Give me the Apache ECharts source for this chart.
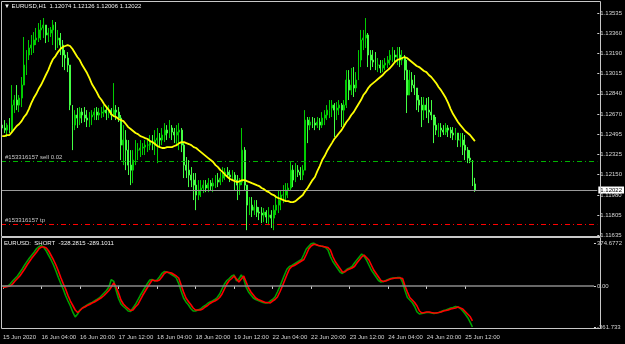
<!DOCTYPE html>
<html><head><meta charset="utf-8">
<script src="https://cdn.jsdelivr.net/npm/echarts@6/dist/echarts.min.js"></script>
<style>html,body{margin:0;padding:0;background:#000;}#c{width:625px;height:344px;}</style>
</head><body><div id="c"></div>
<script>
// ---------- DATA ----------
const mainTitle = '\u25BC EURUSD,H1  1.12074 1.12126 1.12006 1.12022';
const indTitle = 'EURUSD:  SHORT  -328.2815 -289.1011';
const timeLabels = ['15 Jun 2020','16 Jun 04:00','16 Jun 20:00','17 Jun 12:00','18 Jun 04:00','18 Jun 20:00','19 Jun 12:00','22 Jun 04:00','22 Jun 20:00','23 Jun 12:00','24 Jun 04:00','24 Jun 20:00','25 Jun 12:00'];
const priceTickLabels = ['1.11635','1.11805','1.11980','1.12150','1.12325','1.12495','1.12670','1.12840','1.13015','1.13190','1.13360','1.13535'];
const indTickValues = [-361.733, 0, 374.6772];
const indTickLabels = ['-361.733','0.00','374.6772'];
const bidPrice = 1.12022;
const sellLevel = 1.12267;
const tpLevel = 1.11732;
const sellText = '#153316157 sell 0.02';
const tpText = '#153316157 tp';

const open = [
1.12577,1.12552,1.12534,1.12577,1.12534,1.12748,1.12791,1.12748,1.12808,1.12919,
1.13090,1.13176,1.13236,1.13261,1.13304,1.13321,1.13390,1.13407,1.13432,1.13347,
1.13364,1.13390,1.13432,1.13304,1.13321,1.13261,1.13176,1.13150,1.13090,1.12748,
1.12577,1.12663,1.12637,1.12688,1.12663,1.12637,1.12620,1.12646,1.12663,1.12688,
1.12663,1.12680,1.12688,1.12705,1.12680,1.12705,1.12663,1.12705,1.12688,1.12637,
1.12406,1.12449,1.12363,1.12235,1.12192,1.12278,1.12363,1.12363,1.12381,1.12389,
1.12406,1.12406,1.12432,1.12406,1.12449,1.12466,1.12449,1.12492,1.12534,1.12509,
1.12552,1.12517,1.12492,1.12517,1.12534,1.12406,1.12235,1.12192,1.12150,1.12107,
1.12064,1.11979,1.12021,1.12039,1.12064,1.12039,1.12081,1.12056,1.12081,1.12107,
1.12090,1.12124,1.12150,1.12175,1.12150,1.12133,1.12150,1.12107,1.12064,1.12090,
1.12363,1.12064,1.11893,1.11893,1.11850,1.11876,1.11833,1.11825,1.11808,1.11833,
1.11791,1.11808,1.11782,1.11850,1.11893,1.11936,1.11979,1.11979,1.12021,1.12039,
1.12192,1.12107,1.12192,1.12175,1.12150,1.12192,1.12620,1.12577,1.12603,1.12594,
1.12577,1.12603,1.12577,1.12637,1.12663,1.12705,1.12723,1.12748,1.12705,1.12723,
1.12748,1.12705,1.12748,1.12962,1.12876,1.12919,1.12894,1.12962,1.13133,1.13304,
1.13321,1.13347,1.13176,1.13133,1.13116,1.13090,1.13090,1.13065,1.13090,1.13107,
1.13133,1.13176,1.13176,1.13159,1.13176,1.13133,1.13150,1.13047,1.12834,1.12962,
1.12919,1.12894,1.12791,1.12748,1.12705,1.12748,1.12705,1.12688,1.12663,1.12577,
1.12534,1.12552,1.12534,1.12517,1.12552,1.12534,1.12509,1.12492,1.12509,1.12449,
1.12449,1.12406,1.12363,1.12295,1.12278,1.12074];
const high = [
1.12663,1.12620,1.12594,1.12637,1.12919,1.12834,1.12919,1.12834,1.12988,1.13330,
1.13218,1.13304,1.13347,1.13372,1.13407,1.13449,1.13475,1.13492,1.13432,1.13407,
1.13415,1.13475,1.13458,1.13390,1.13364,1.13304,1.13218,1.13201,1.13090,1.12748,
1.12705,1.12723,1.12731,1.12723,1.12731,1.12705,1.12688,1.12705,1.12723,1.12731,
1.12723,1.12731,1.12748,1.12731,1.12748,1.12723,1.12936,1.12748,1.12731,1.12663,
1.12577,1.12534,1.12449,1.12363,1.12363,1.12449,1.12423,1.12449,1.12423,1.12449,
1.12466,1.12492,1.12492,1.12534,1.12552,1.12509,1.12552,1.12594,1.12577,1.12620,
1.12577,1.12552,1.12577,1.12594,1.12552,1.12423,1.12304,1.12278,1.12218,1.12167,
1.12167,1.12107,1.12107,1.12107,1.12107,1.12124,1.12107,1.12124,1.12150,1.12167,
1.12175,1.12218,1.12210,1.12218,1.12192,1.12192,1.12175,1.12150,1.12124,1.12552,
1.12389,1.12064,1.11962,1.11962,1.11936,1.11936,1.11876,1.11876,1.11868,1.11850,
1.11876,1.11850,1.11893,1.11979,1.12021,1.12021,1.12064,1.12081,1.12081,1.12261,
1.12235,1.12252,1.12235,1.12218,1.12235,1.12705,1.12646,1.12646,1.12646,1.12637,
1.12646,1.12637,1.12688,1.12705,1.12748,1.12791,1.12791,1.12765,1.12774,1.12791,
1.12765,1.12791,1.13047,1.13047,1.13065,1.13073,1.13030,1.13218,1.13390,1.13390,
1.13492,1.13364,1.13218,1.13218,1.13201,1.13150,1.13133,1.13133,1.13150,1.13167,
1.13218,1.13244,1.13218,1.13244,1.13244,1.13218,1.13176,1.13133,1.13047,1.13030,
1.13005,1.12894,1.12834,1.12817,1.12817,1.12808,1.12817,1.12791,1.12663,1.12646,
1.12594,1.12594,1.12577,1.12594,1.12577,1.12560,1.12560,1.12552,1.12509,1.12509,
1.12509,1.12492,1.12389,1.12363,1.12278,1.12126];
const low = [
1.12492,1.12509,1.12475,1.12509,1.12509,1.12680,1.12705,1.12688,1.12731,1.12919,
1.13005,1.13133,1.13176,1.13193,1.13261,1.13287,1.13304,1.13321,1.13278,1.13287,
1.13330,1.13261,1.13218,1.13236,1.13176,1.13073,1.13047,1.13030,1.12705,1.12363,
1.12534,1.12552,1.12577,1.12594,1.12603,1.12560,1.12560,1.12577,1.12620,1.12620,
1.12620,1.12637,1.12646,1.12620,1.12637,1.12620,1.12646,1.12620,1.12603,1.12278,
1.12235,1.12192,1.12150,1.12064,1.12081,1.12235,1.12278,1.12304,1.12321,1.12321,
1.12346,1.12363,1.12363,1.12321,1.12252,1.12389,1.12406,1.12432,1.12449,1.12466,
1.12449,1.12423,1.12406,1.12363,1.12346,1.12124,1.12124,1.12047,1.12047,1.11936,
1.11850,1.11936,1.11962,1.11996,1.12004,1.12004,1.12021,1.12004,1.12039,1.12047,
1.12064,1.12090,1.12107,1.12124,1.12090,1.12107,1.12021,1.11936,1.11979,1.12064,
1.12021,1.11679,1.11808,1.11791,1.11808,1.11791,1.11765,1.11739,1.11748,1.11739,
1.11722,1.11697,1.11679,1.11808,1.11825,1.11850,1.11910,1.11936,1.11953,1.12021,
1.12047,1.12090,1.12133,1.12107,1.12107,1.12192,1.12423,1.12534,1.12552,1.12534,
1.12552,1.12534,1.12552,1.12577,1.12620,1.12637,1.12646,1.12475,1.12620,1.12663,
1.12560,1.12577,1.12723,1.12791,1.12834,1.12817,1.12859,1.12962,1.13073,1.13218,
1.13236,1.13073,1.13047,1.13073,1.13047,1.13030,1.13022,1.13030,1.13047,1.13065,
1.13090,1.13116,1.13107,1.13090,1.13073,1.13090,1.12962,1.12680,1.12834,1.12859,
1.12834,1.12705,1.12688,1.12560,1.12620,1.12637,1.12594,1.12620,1.12423,1.12492,
1.12475,1.12475,1.12492,1.12492,1.12475,1.12466,1.12449,1.12449,1.12389,1.12389,
1.12321,1.12278,1.12252,1.12252,1.12056,1.12006];
const close = [
1.12552,1.12534,1.12577,1.12534,1.12748,1.12791,1.12748,1.12808,1.12919,1.13090,
1.13176,1.13236,1.13261,1.13304,1.13321,1.13390,1.13407,1.13432,1.13347,1.13364,
1.13390,1.13432,1.13304,1.13321,1.13261,1.13176,1.13150,1.13090,1.12748,1.12577,
1.12663,1.12637,1.12688,1.12663,1.12637,1.12620,1.12646,1.12663,1.12688,1.12663,
1.12680,1.12688,1.12705,1.12680,1.12705,1.12663,1.12705,1.12688,1.12637,1.12406,
1.12449,1.12363,1.12235,1.12192,1.12278,1.12363,1.12363,1.12381,1.12389,1.12406,
1.12406,1.12432,1.12406,1.12449,1.12466,1.12449,1.12492,1.12534,1.12509,1.12552,
1.12517,1.12492,1.12517,1.12534,1.12406,1.12235,1.12192,1.12150,1.12107,1.12064,
1.11979,1.12021,1.12039,1.12064,1.12039,1.12081,1.12056,1.12081,1.12107,1.12090,
1.12124,1.12150,1.12175,1.12150,1.12133,1.12150,1.12107,1.12064,1.12090,1.12363,
1.12064,1.11893,1.11893,1.11850,1.11876,1.11833,1.11825,1.11808,1.11833,1.11791,
1.11808,1.11782,1.11850,1.11893,1.11936,1.11979,1.11979,1.12021,1.12039,1.12192,
1.12107,1.12192,1.12175,1.12150,1.12192,1.12620,1.12577,1.12603,1.12594,1.12577,
1.12603,1.12577,1.12637,1.12663,1.12705,1.12723,1.12748,1.12705,1.12723,1.12748,
1.12705,1.12748,1.12962,1.12876,1.12919,1.12894,1.12962,1.13133,1.13304,1.13321,
1.13347,1.13176,1.13133,1.13116,1.13090,1.13090,1.13065,1.13090,1.13107,1.13133,
1.13176,1.13176,1.13159,1.13176,1.13133,1.13150,1.13047,1.12834,1.12962,1.12919,
1.12894,1.12791,1.12748,1.12705,1.12748,1.12705,1.12688,1.12663,1.12577,1.12534,
1.12552,1.12534,1.12517,1.12552,1.12534,1.12509,1.12492,1.12509,1.12449,1.12449,
1.12406,1.12363,1.12295,1.12278,1.12074,1.12022];
const maLine = [
1.12483,1.12483,1.12492,1.12492,1.12517,1.12543,1.12569,1.12586,1.12611,1.12646,
1.12671,1.12714,1.12765,1.12808,1.12842,1.12885,1.12919,1.12962,1.13005,1.13047,
1.13099,1.13142,1.13167,1.13201,1.13227,1.13244,1.13253,1.13261,1.13253,1.13227,
1.13193,1.13159,1.13133,1.13090,1.13056,1.13022,1.12979,1.12928,1.12894,1.12859,
1.12817,1.12791,1.12757,1.12731,1.12705,1.12671,1.12654,1.12646,1.12629,1.12620,
1.12611,1.12586,1.12560,1.12543,1.12526,1.12509,1.12500,1.12483,1.12475,1.12466,
1.12458,1.12440,1.12432,1.12415,1.12398,1.12389,1.12381,1.12381,1.12389,1.12389,
1.12389,1.12398,1.12406,1.12423,1.12432,1.12432,1.12423,1.12415,1.12406,1.12389,
1.12381,1.12363,1.12346,1.12329,1.12312,1.12295,1.12278,1.12261,1.12235,1.12218,
1.12192,1.12175,1.12150,1.12133,1.12116,1.12107,1.12098,1.12090,1.12098,1.12107,
1.12107,1.12098,1.12090,1.12081,1.12073,1.12064,1.12056,1.12039,1.12030,1.12013,
1.12004,1.11987,1.11979,1.11962,1.11953,1.11945,1.11936,1.11927,1.11927,1.11919,
1.11919,1.11927,1.11945,1.11962,1.11979,1.12013,1.12039,1.12073,1.12107,1.12133,
1.12184,1.12227,1.12278,1.12312,1.12355,1.12389,1.12423,1.12458,1.12483,1.12509,
1.12534,1.12569,1.12603,1.12629,1.12663,1.12688,1.12723,1.12757,1.12791,1.12834,
1.12859,1.12894,1.12919,1.12936,1.12953,1.12971,1.12988,1.13005,1.13030,1.13047,
1.13065,1.13090,1.13116,1.13133,1.13142,1.13150,1.13159,1.13150,1.13133,1.13116,
1.13099,1.13082,1.13073,1.13056,1.13039,1.13030,1.13005,1.12988,1.12962,1.12936,
1.12902,1.12876,1.12842,1.12808,1.12765,1.12714,1.12671,1.12637,1.12603,1.12577,
1.12552,1.12526,1.12509,1.12492,1.12466,1.12440];
const indRed = [
-14.0,-9.7,-5.3,-0.9,16.5,42.7,64.6,86.4,117.0,147.6,
182.5,213.1,243.7,269.8,296.0,326.6,339.7,339.7,331.0,304.8,
265.5,226.2,182.5,130.1,73.3,20.9,-27.2,-84.0,-132.1,-171.3,
-210.6,-232.5,-215.0,-193.2,-184.4,-171.3,-162.6,-149.5,-140.8,-127.7,
-114.6,-101.5,-84.0,-62.2,-40.3,-9.7,25.3,-9.7,-62.2,-123.3,
-158.2,-180.1,-197.5,-215.0,-210.6,-184.4,-162.6,-123.3,-84.0,-49.0,
-14.0,20.9,51.5,47.1,42.7,51.5,77.7,108.3,121.3,117.0,
112.6,99.5,86.4,69.0,7.8,-53.4,-105.8,-136.4,-162.6,-193.2,
-210.6,-210.6,-210.6,-201.9,-184.4,-171.3,-153.9,-140.8,-132.1,-119.0,
-101.5,-70.9,-27.2,16.5,47.1,64.6,86.4,60.2,34.0,60.2,
86.4,34.0,-18.4,-53.4,-79.6,-105.8,-119.0,-127.7,-136.4,-145.2,
-145.2,-149.5,-132.1,-119.0,-97.1,-53.4,-5.3,47.1,99.5,147.6,
169.4,178.2,191.3,204.4,217.5,230.6,274.2,322.2,348.4,361.5,
361.5,352.8,348.4,344.1,339.7,335.3,313.5,256.7,213.1,182.5,
151.9,121.3,121.3,138.8,147.6,156.3,169.4,200.0,226.2,252.4,
269.8,248.0,226.2,182.5,138.8,108.3,77.7,47.1,38.4,42.7,
51.5,60.2,64.6,69.0,69.0,69.0,64.6,-0.9,-53.4,-101.5,
-123.3,-145.2,-175.7,-219.4,-236.8,-232.5,-228.1,-228.1,-232.5,-236.8,
-236.8,-232.5,-228.1,-219.4,-215.0,-210.6,-201.9,-197.5,-193.2,-184.4,
-193.2,-201.9,-223.7,-245.5,-267.3,-306.6];
const indGreen = [
-9.7,-5.3,-0.9,16.5,42.7,64.6,86.4,117.0,147.6,182.5,
213.1,243.7,269.8,296.0,326.6,344.1,352.8,335.3,304.8,265.5,
226.2,182.5,130.1,73.3,20.9,-27.2,-84.0,-132.1,-175.7,-230.0,
-271.7,-245.5,-210.6,-193.2,-180.1,-167.0,-153.9,-145.2,-132.1,-119.0,
-105.8,-84.0,-62.2,-40.3,-9.7,55.0,40.0,-40.0,-110.0,-158.2,
-180.1,-197.5,-219.4,-223.7,-193.2,-162.6,-123.3,-84.0,-49.0,-14.0,
20.9,51.5,55.0,42.7,51.5,77.7,108.3,125.0,121.3,112.6,
99.5,86.4,69.0,20.0,-45.0,-105.8,-140.0,-165.0,-197.5,-219.4,
-219.4,-210.6,-201.9,-184.4,-171.3,-153.9,-140.8,-132.1,-119.0,-101.5,
-70.9,-27.2,16.5,47.1,64.6,86.4,95.0,45.0,60.0,95.0,
60.0,-10.0,-53.4,-79.6,-105.8,-119.0,-127.7,-136.4,-145.2,-149.5,
-149.5,-132.1,-119.0,-97.1,-53.4,-5.3,47.1,99.5,147.6,169.4,
178.2,191.3,204.4,217.5,230.6,274.2,322.2,345.0,368.0,374.6,
360.0,352.8,348.4,344.1,335.3,313.5,256.7,213.1,182.5,151.9,
121.3,108.0,130.0,147.6,156.3,169.4,200.0,226.2,252.4,278.0,
260.0,226.2,182.5,138.8,108.3,77.7,47.1,34.0,38.4,47.1,
55.9,64.6,69.0,69.0,73.3,73.3,30.0,-40.0,-101.5,-123.3,
-145.2,-180.0,-228.1,-245.5,-241.2,-236.8,-232.5,-232.5,-236.8,-241.2,
-236.8,-232.5,-223.7,-215.0,-210.6,-201.9,-193.2,-188.8,-180.1,-184.4,
-197.5,-219.4,-245.5,-276.0,-315.0,-359.0];

// ---------- LAYOUT / SCALES ----------
const TOTAL_SLOTS = 246;      // visible bar slots incl. empty right shift
const LABEL_STEP = 16;        // one time label every 16 bars
const PRICE_MIN = 1.11635, PRICE_MAX = 1.13535;
const IND_MIN = -361.733, IND_MAX = 374.6772;
const FONT = 'Liberation Sans';
const AX = '#d4d4d4';

const slots = [];
for (let i = 0; i < TOTAL_SLOTS; i++) slots.push(String(i));
const isLabelSlot = (idx) => idx % LABEL_STEP === 0 && idx / LABEL_STEP < timeLabels.length;
const slotLabel = (idx) => isLabelSlot(idx) ? timeLabels[idx / LABEL_STEP] : '';

const priceStep = (PRICE_MAX - PRICE_MIN) / (priceTickLabels.length - 1);
const priceTickPos = priceTickLabels.map((s, k) => PRICE_MIN + k * priceStep);
const priceLabelFor = (v) => {
  const k = Math.round((v - PRICE_MIN) / priceStep);
  return (k >= 0 && k < priceTickLabels.length) ? priceTickLabels[k] : '';
};
const indLabelFor = (v) => {
  let best = 0;
  for (let k = 1; k < indTickValues.length; k++) if (Math.abs(indTickValues[k] - v) < Math.abs(indTickValues[best] - v)) best = k;
  return indTickLabels[best];
};

const candles = close.map((c, i) => [open[i], c, low[i], high[i]]);

const txt = (size) => ({ color: AX, fontSize: size, fontFamily: FONT, fontWeight: 'normal' });
const orderLabel = (t) => ({ show: true, position: 'insideStartTop', formatter: t, color: '#c8c8c8', fontSize: 6, fontFamily: FONT, distance: [4, 1] });

const chart = echarts.init(document.getElementById('c'), null, { renderer: 'canvas' });
chart.setOption({
  backgroundColor: '#000000',
  animation: false,
  title: [
    { text: mainTitle, left: 4, top: 3, padding: 0, textStyle: Object.assign(txt(6), { color: '#f2f2f2' }) },
    { text: indTitle, left: 4, top: 240, padding: 0, textStyle: Object.assign(txt(6), { color: '#f2f2f2' }) }
  ],
  grid: [
    { left: 1, right: 24, top: 13, height: 222.3 },
    { left: 1, right: 24, top: 243, height: 84.3 }
  ],
  xAxis: [
    { type: 'category', gridIndex: 0, data: slots, boundaryGap: true, show: false },
    { type: 'category', gridIndex: 1, data: slots, boundaryGap: true, offset: 1.4,
      axisLine: { show: false }, splitLine: { show: false },
      axisTick: { show: true, alignWithLabel: true, length: 3, interval: isLabelSlot, lineStyle: { color: AX } },
      axisLabel: Object.assign({ interval: isLabelSlot, formatter: (v, i) => slotLabel(i), align: 'left', margin: 6 }, txt(6)) }
  ],
  yAxis: [
    { type: 'value', gridIndex: 0, position: 'right', min: PRICE_MIN, max: PRICE_MAX,
      axisLine: { show: false }, splitLine: { show: false },
      axisTick: { show: true, length: 2, customValues: priceTickPos, lineStyle: { color: AX } },
      axisLabel: Object.assign({ customValues: priceTickPos, formatter: priceLabelFor, margin: 3 }, txt(6)) },
    { type: 'value', gridIndex: 1, position: 'right', min: IND_MIN, max: IND_MAX,
      axisLine: { show: false }, splitLine: { show: false },
      axisTick: { show: true, length: 2, customValues: indTickValues, lineStyle: { color: AX } },
      axisLabel: Object.assign({ customValues: indTickValues, formatter: indLabelFor, margin: 3 }, txt(6)) }
  ],
  series: [
    { type: 'candlestick', xAxisIndex: 0, yAxisIndex: 0, data: candles, barWidth: 1.4, z: 3,
      itemStyle: { color: '#0a6a0a', color0: '#d0ffd0', borderColor: '#00cc00', borderColor0: '#44ff44', borderWidth: 1 } },
    { type: 'line', xAxisIndex: 0, yAxisIndex: 0, data: maLine, symbol: 'none', z: 5,
      lineStyle: { color: '#ffff00', width: 1.8 },
      markLine: { silent: true, symbol: ['none', 'none'], animation: false, precision: 5,
        data: [
          { yAxis: bidPrice, lineStyle: { color: '#9a9a9a', type: 'solid', width: 1 },
            label: { show: true, position: 'end', formatter: bidPrice.toFixed(5), backgroundColor: '#ffffff', color: '#000000', fontSize: 6, fontFamily: FONT, padding: [1, 2, 0, 2], distance: 1 } },
          { yAxis: sellLevel, lineStyle: { color: '#00b400', type: [5, 3, 1, 3], width: 1 }, label: orderLabel(sellText) },
          { yAxis: tpLevel, lineStyle: { color: '#ff0000', type: [5, 3, 1, 3], width: 1 }, label: orderLabel(tpText) }
        ] } },
    { type: 'line', xAxisIndex: 1, yAxisIndex: 1, data: indGreen, symbol: 'none', z: 3,
      lineStyle: { color: '#00a000', width: 1.6 },
      markLine: { silent: true, symbol: ['none', 'none'], animation: false, label: { show: false },
        lineStyle: { color: '#8a8a8a', type: 'solid', width: 1.5 }, data: [{ yAxis: 0 }] } },
    { type: 'line', xAxisIndex: 1, yAxisIndex: 1, data: indRed, symbol: 'none', z: 4,
      lineStyle: { color: '#ff0000', width: 1.6 } }
  ],
  graphic: [
    { type: 'rect', silent: true, z: 100, shape: { x: 1.5, y: 1.5, width: 599, height: 235 }, style: { fill: 'none', stroke: '#c8c8c8', lineWidth: 1 } },
    { type: 'rect', silent: true, z: 100, shape: { x: 1.5, y: 237.5, width: 599, height: 91 }, style: { fill: 'none', stroke: '#c8c8c8', lineWidth: 1 } }
  ]
});
</script></body></html>
